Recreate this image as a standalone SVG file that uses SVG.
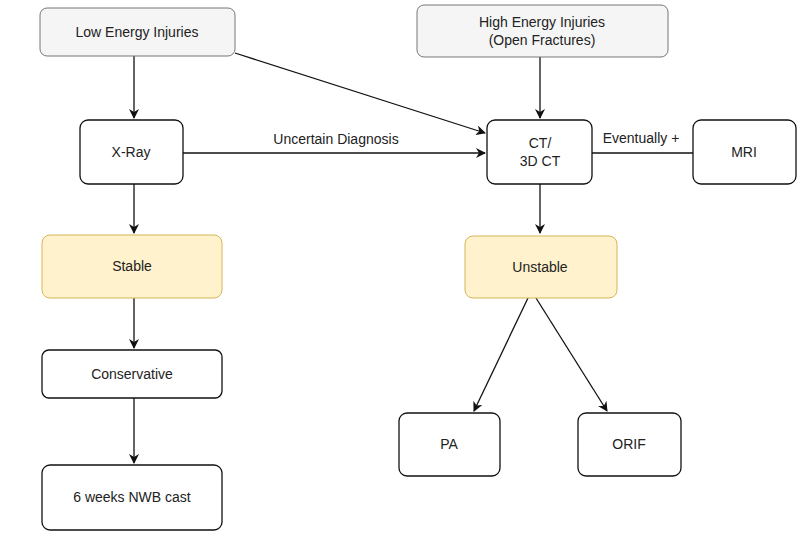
<svg xmlns="http://www.w3.org/2000/svg" width="800" height="545" viewBox="0 0 800 545">
<defs>
<style>
text{font-family:"Liberation Sans",Arial,sans-serif;font-size:14px;fill:#222;text-anchor:middle}
.n{fill:#fff;stroke:#111;stroke-width:1.3}
.g{fill:#f5f5f5;stroke:#777;stroke-width:1}
.y{fill:#fff2cc;stroke:#d6b656;stroke-width:1}
.c{stroke:#111;stroke-width:1.3;fill:none}
</style>
<marker id="a" markerWidth="10" markerHeight="10" refX="9" refY="5" orient="auto" markerUnits="userSpaceOnUse"><path d="M0,0 L10,5 L0,10 L3,5 Z" fill="#111"/></marker>
</defs>
<rect width="800" height="545" fill="#fff"/>
<g id="connectors">
<path class="c" d="M134,56 V118" marker-end="url(#a)"/>
<path class="c" d="M235,53 L485,133" marker-end="url(#a)"/>
<path class="c" d="M540,57 V118" marker-end="url(#a)"/>
<path class="c" d="M183,153 H485" marker-end="url(#a)"/>
<text x="336" y="144">Uncertain Diagnosis</text>
<path class="c" d="M592,153 H693"/>
<text x="641" y="143">Eventually +</text>
<path class="c" d="M134,184 V233" marker-end="url(#a)"/>
<path class="c" d="M540,184 V233" marker-end="url(#a)"/>
<path class="c" d="M134,298 V348" marker-end="url(#a)"/>
<path class="c" d="M134,398 V463" marker-end="url(#a)"/>
<path class="c" d="M528,298 L474,411" marker-end="url(#a)"/>
<path class="c" d="M536,298 L607,411" marker-end="url(#a)"/>
</g>
<g id="low"><rect class="g" x="40" y="8" width="195" height="48" rx="7"/><text x="137" y="37">Low Energy Injuries</text></g>
<g id="high"><rect class="g" x="417" y="5" width="251" height="52" rx="7"/><text x="542" y="27">High Energy Injuries</text><text x="542" y="45">(Open Fractures)</text></g>
<g id="xray"><rect class="n" x="80" y="120" width="103" height="64" rx="8"/><text x="131" y="157">X-Ray</text></g>
<g id="ct"><rect class="n" x="487" y="120" width="105" height="64" rx="8"/><text x="540" y="148">CT/</text><text x="540" y="166">3D CT</text></g>
<g id="mri"><rect class="n" x="693" y="120" width="103" height="64" rx="8"/><text x="744" y="157">MRI</text></g>
<g id="stable"><rect class="y" x="42" y="235" width="180" height="63" rx="8"/><text x="132" y="271">Stable</text></g>
<g id="unstable"><rect class="y" x="465" y="236" width="152" height="62" rx="8"/><text x="540" y="272">Unstable</text></g>
<g id="conservative"><rect class="n" x="42" y="350" width="180" height="48" rx="7"/><text x="132" y="379">Conservative</text></g>
<g id="cast"><rect class="n" x="42" y="465" width="180" height="65" rx="8"/><text x="132" y="502">6 weeks NWB cast</text></g>
<g id="pa"><rect class="n" x="399" y="413" width="101" height="63" rx="8"/><text x="449" y="449">PA</text></g>
<g id="orif"><rect class="n" x="578" y="413" width="103" height="63" rx="8"/><text x="629" y="449">ORIF</text></g>
</svg>
